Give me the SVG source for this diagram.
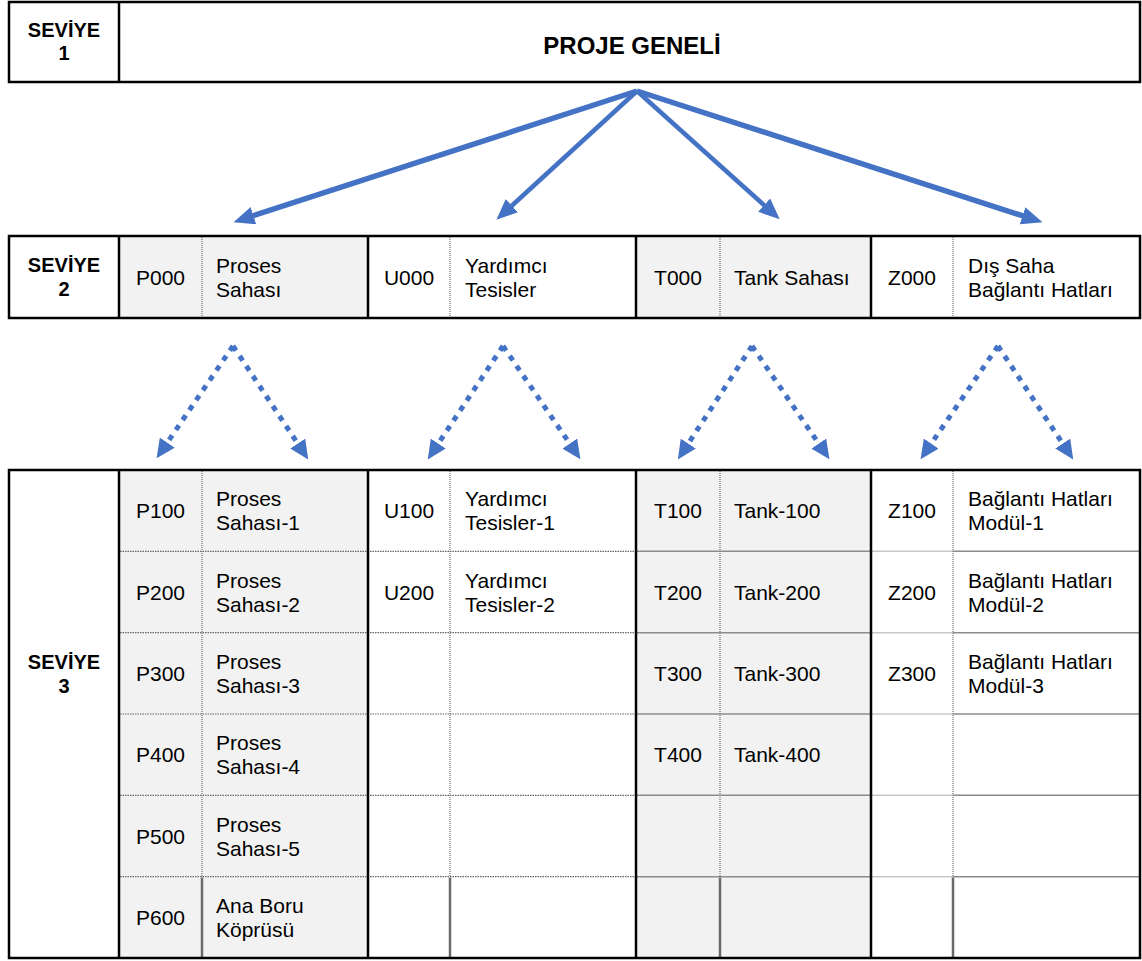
<svg xmlns="http://www.w3.org/2000/svg" width="1142" height="961" viewBox="0 0 1142 961">
<style>
.t{font-family:"Liberation Sans",Arial,sans-serif;font-size:21px;fill:#000}
.c{text-anchor:middle}
.b{font-weight:bold;font-size:20px}
.h{font-weight:bold;font-size:24px}
.frame{fill:none;stroke:#000;stroke-width:2.5}
.thick{stroke:#000;stroke-width:2.5}
.dv{stroke:#8a8a8a;stroke-width:1.5;stroke-dasharray:1 1}
.sv{stroke:#6a6a6a;stroke-width:2.5}
.dh{stroke:#666;stroke-width:1.2;stroke-dasharray:1.5 1}
.gh{stroke:#8c8c8c;stroke-width:1.5}
.lh{stroke:#c8c8c8;stroke-width:1.5}
.shade{fill:#f2f2f2}
.sa{fill:none;stroke:#4472c4;marker-end:url(#ah)}
.da{fill:none;stroke:#4472c4;stroke-width:5;stroke-dasharray:5.5 6.5;marker-end:url(#dh)}
</style>
<defs>
<marker id="ah" markerUnits="userSpaceOnUse" markerWidth="21" markerHeight="18" viewBox="0 0 21 18" refX="0.5" refY="9" orient="auto"><path d="M0,0 L21,9 L0,18 z" fill="#4472c4"/></marker>
<marker id="dh" markerUnits="userSpaceOnUse" markerWidth="19" markerHeight="18" viewBox="0 0 19 18" refX="0.5" refY="9" orient="auto"><path d="M0,0 L19,9 L0,18 z" fill="#4472c4"/></marker>
</defs>
<rect width="1142" height="961" fill="#fff"/>

<g id="level1">
<rect class="frame" x="9" y="2" width="1131" height="80"/>
<line class="thick" x1="119" y1="2" x2="119" y2="82"/>
<text class="t b c" x="64" y="37">SEVİYE</text>
<text class="t b c" x="64" y="60">1</text>
<text class="t h c" x="632" y="54">PROJE GENELİ</text>
</g>

<g id="level2">
<rect class="shade" x="119" y="236" width="249" height="82"/>
<rect class="shade" x="636" y="236" width="235" height="82"/>
<line class="dv" x1="202" y1="237" x2="202" y2="317"/>
<line class="dv" x1="450" y1="237" x2="450" y2="317"/>
<line class="dv" x1="720" y1="237" x2="720" y2="317"/>
<line class="dv" x1="953" y1="237" x2="953" y2="317"/>
<rect class="frame" x="9" y="236" width="1131" height="82"/>
<line class="thick" x1="119" y1="236" x2="119" y2="318"/>
<line class="thick" x1="368" y1="236" x2="368" y2="318"/>
<line class="thick" x1="636" y1="236" x2="636" y2="318"/>
<line class="thick" x1="871" y1="236" x2="871" y2="318"/>
<g id="l2-label"><text class="t b c" x="64" y="272">SEVİYE</text><text class="t b c" x="64" y="296">2</text></g>
<g id="p000"><text class="t c" x="160.5" y="284.5">P000</text><text class="t" x="216" y="272.5">Proses</text><text class="t" x="216" y="296.5">Sahası</text></g>
<g id="u000"><text class="t c" x="409" y="284.5">U000</text><text class="t" x="465" y="272.5">Yardımcı</text><text class="t" x="465" y="296.5">Tesisler</text></g>
<g id="t000"><text class="t c" x="678" y="284.5">T000</text><text class="t" x="734" y="284.5">Tank Sahası</text></g>
<g id="z000"><text class="t c" x="912" y="284.5">Z000</text><text class="t" x="968" y="272.5">Dış Saha</text><text class="t" x="968" y="296.5">Bağlantı Hatları</text></g>
</g>

<g id="level3">
<rect class="shade" x="119" y="470" width="249" height="488"/>
<rect class="shade" x="636" y="470" width="235" height="488"/>
<g id="l3-grid">
<line class="dh" x1="120" y1="551.3" x2="636" y2="551.3"/>
<line class="dh" x1="120" y1="632.7" x2="636" y2="632.7"/>
<line class="dh" x1="120" y1="714" x2="636" y2="714"/>
<line class="dh" x1="120" y1="795.3" x2="636" y2="795.3"/>
<line class="dh" x1="120" y1="876.7" x2="636" y2="876.7"/>
<line class="gh" x1="636" y1="551.3" x2="871" y2="551.3"/>
<line class="gh" x1="636" y1="632.7" x2="871" y2="632.7"/>
<line class="gh" x1="636" y1="714" x2="871" y2="714"/>
<line class="gh" x1="636" y1="795.3" x2="871" y2="795.3"/>
<line class="gh" x1="636" y1="876.7" x2="871" y2="876.7"/>
<line class="lh" x1="871" y1="551.3" x2="953" y2="551.3"/>
<line class="lh" x1="871" y1="632.7" x2="953" y2="632.7"/>
<line class="lh" x1="871" y1="714" x2="953" y2="714"/>
<line class="lh" x1="871" y1="795.3" x2="953" y2="795.3"/>
<line class="lh" x1="871" y1="876.7" x2="953" y2="876.7"/>
<line class="gh" x1="953" y1="551.3" x2="1140" y2="551.3"/>
<line class="gh" x1="953" y1="632.7" x2="1140" y2="632.7"/>
<line class="gh" x1="953" y1="714" x2="1140" y2="714"/>
<line class="gh" x1="953" y1="795.3" x2="1140" y2="795.3"/>
<line class="gh" x1="953" y1="876.7" x2="1140" y2="876.7"/>
<line class="dv" x1="202" y1="471" x2="202" y2="876"/>
<line class="dv" x1="450" y1="471" x2="450" y2="876"/>
<line class="dv" x1="720" y1="471" x2="720" y2="876"/>
<line class="dv" x1="953" y1="471" x2="953" y2="876"/>
<line class="sv" x1="202" y1="877.5" x2="202" y2="957"/>
<line class="sv" x1="450" y1="877.5" x2="450" y2="957"/>
<line class="sv" x1="720" y1="877.5" x2="720" y2="957"/>
<line class="sv" x1="953" y1="877.5" x2="953" y2="957"/>
<rect class="frame" x="9" y="470" width="1131" height="488"/>
<line class="thick" x1="119" y1="470" x2="119" y2="958"/>
<line class="thick" x1="368" y1="470" x2="368" y2="958"/>
<line class="thick" x1="636" y1="470" x2="636" y2="958"/>
<line class="thick" x1="871" y1="470" x2="871" y2="958"/>
</g>
<g id="l3-label"><text class="t b c" x="64" y="668.5">SEVİYE</text><text class="t b c" x="64" y="692.5">3</text></g>
<g id="p100"><text class="t c" x="160.5" y="518.2">P100</text><text class="t" x="216" y="506.2">Proses</text><text class="t" x="216" y="530.2">Sahası-1</text></g>
<g id="p200"><text class="t c" x="160.5" y="599.5">P200</text><text class="t" x="216" y="587.5">Proses</text><text class="t" x="216" y="611.5">Sahası-2</text></g>
<g id="p300"><text class="t c" x="160.5" y="680.8">P300</text><text class="t" x="216" y="668.8">Proses</text><text class="t" x="216" y="692.8">Sahası-3</text></g>
<g id="p400"><text class="t c" x="160.5" y="762.2">P400</text><text class="t" x="216" y="750.2">Proses</text><text class="t" x="216" y="774.2">Sahası-4</text></g>
<g id="p500"><text class="t c" x="160.5" y="843.5">P500</text><text class="t" x="216" y="831.5">Proses</text><text class="t" x="216" y="855.5">Sahası-5</text></g>
<g id="p600"><text class="t c" x="160.5" y="924.8">P600</text><text class="t" x="216" y="912.8">Ana Boru</text><text class="t" x="216" y="936.8">Köprüsü</text></g>
<g id="u100"><text class="t c" x="409" y="518.2">U100</text><text class="t" x="465" y="506.2">Yardımcı</text><text class="t" x="465" y="530.2">Tesisler-1</text></g>
<g id="u200"><text class="t c" x="409" y="599.5">U200</text><text class="t" x="465" y="587.5">Yardımcı</text><text class="t" x="465" y="611.5">Tesisler-2</text></g>
<g id="t100"><text class="t c" x="678" y="518.2">T100</text><text class="t" x="734" y="518.2">Tank-100</text></g>
<g id="t200"><text class="t c" x="678" y="599.5">T200</text><text class="t" x="734" y="599.5">Tank-200</text></g>
<g id="t300"><text class="t c" x="678" y="680.8">T300</text><text class="t" x="734" y="680.8">Tank-300</text></g>
<g id="t400"><text class="t c" x="678" y="762.2">T400</text><text class="t" x="734" y="762.2">Tank-400</text></g>
<g id="z100"><text class="t c" x="912" y="518.2">Z100</text><text class="t" x="968" y="506.2">Bağlantı Hatları</text><text class="t" x="968" y="530.2">Modül-1</text></g>
<g id="z200"><text class="t c" x="912" y="599.5">Z200</text><text class="t" x="968" y="587.5">Bağlantı Hatları</text><text class="t" x="968" y="611.5">Modül-2</text></g>
<g id="z300"><text class="t c" x="912" y="680.8">Z300</text><text class="t" x="968" y="668.8">Bağlantı Hatları</text><text class="t" x="968" y="692.8">Modül-3</text></g>
</g>

<g id="connectors">
<path class="sa" stroke-width="5.5" d="M637,91 L253,215.8"/>
<path class="sa" stroke-width="4.5" d="M637,91 L511.5,206"/>
<path class="sa" stroke-width="4.5" d="M637,91 L764.5,205.5"/>
<path class="sa" stroke-width="5.5" d="M637,91 L1023,215.9"/>
<path class="da" d="M233,346 L167,443"/>
<path class="da" d="M233,346 L298,444"/>
<path class="da" d="M503,346 L438,444"/>
<path class="da" d="M503,346 L570,444"/>
<path class="da" d="M752,346 L688,444"/>
<path class="da" d="M752,346 L819,444"/>
<path class="da" d="M998,346 L931,444"/>
<path class="da" d="M998,346 L1063,444"/>
</g>
</svg>
